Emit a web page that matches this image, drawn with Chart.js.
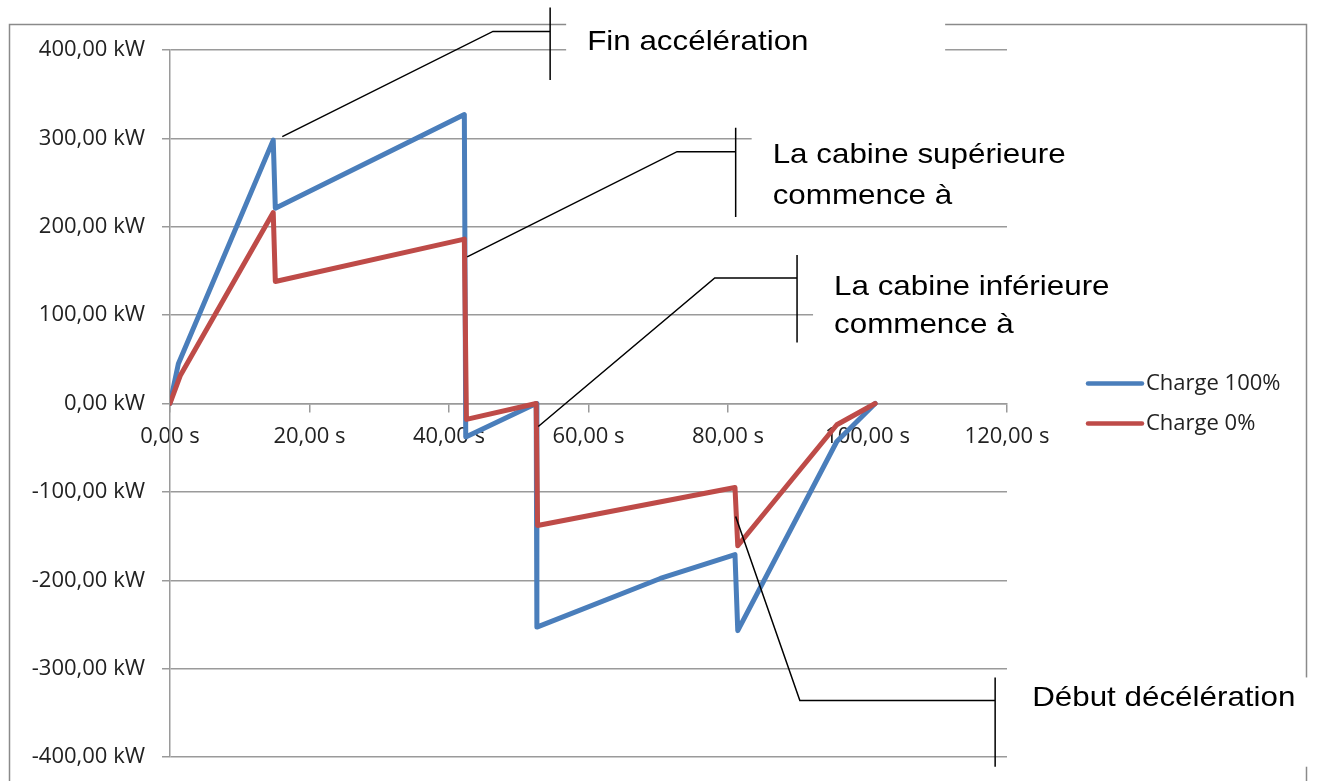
<!DOCTYPE html>
<html>
<head>
<meta charset="utf-8">
<script src="https://cdn.jsdelivr.net/npm/chart.js@4.4.1/dist/chart.umd.min.js"></script>
<style>
  html, body { margin: 0; padding: 0; background: #fff; }
  #wrap { width: 1317px; height: 781px; }
</style>
</head>
<body>
<div id="wrap"><canvas id="chart"></canvas></div>
<script>
// Charge 100% (blue)
const timeFull = [0, 1.2, 14.8, 15.1, 42.2, 42.4, 52.5, 52.6, 70.3, 81.0, 81.4, 95.6, 101.1];
const powerFull = [0, 45, 298, 221, 327, -38, 0, -253, -198, -171, -257, -43, 0];
// Charge 0% (red)
const timeEmpty = [0, 1.5, 14.8, 15.1, 42.2, 42.5, 52.5, 52.7, 81.0, 81.4, 95.6, 101.1];
const powerEmpty = [0, 32, 216, 138, 186, -18, 0, -138, -95, -161, -24, 0];

const seriesLabels = ['Charge 100%', 'Charge 0%'];
const xTicks = [0, 20, 40, 60, 80, 100, 120];
const yTicks = [-400, -300, -200, -100, 0, 100, 200, 300, 400];

// callout texts and the point (s, kW) each one points at
const calloutTexts = [
  ['Fin accélération'],
  ['La cabine supérieure', 'commence à'],
  ['La cabine inférieure', 'commence à'],
  ['Début décélération']
];
const calloutTargets = [[16.1, 302], [42.6, 166], [52.8, -26], [81.1, -128]];

// geometry of the callouts (in axis units), kept apart from the data
const calloutLayout = [
  { elbow: [46.3, 421], bar: [54.5, 448, 366], lines: [42], boxW: 379 },
  { elbow: [72.7, 285], bar: [81.1, 312, 211], lines: [35, 76], boxW: 360 },
  { elbow: [78.1, 142], bar: [89.9, 168, 69], lines: [40, 78], boxW: 330 },
  { elbow: [90.3, -336], bar: [118.3, -310, -411], lines: [29], boxW: 310 }
];

const blue = '#4A7EBB';
const red = '#BE4B48';
const grey = '#9a9a9a';
const tickFont = { family: 'Open Sans', size: 22 };

function pts(xs, ys) { return xs.map((x, i) => ({ x: x, y: ys[i] })); }
function fmt(v, unit) { return v.toFixed(2).replace('.', ',') + ' ' + unit; }

const decorPlugin = {
  id: 'decor',
  beforeDraw(chart) {
    const ctx = chart.ctx;
    ctx.save();
    ctx.fillStyle = '#fff';
    ctx.fillRect(0, 0, chart.width, chart.height);
    ctx.strokeStyle = '#8a8a8a';
    ctx.lineWidth = 1.5;
    ctx.strokeRect(9.5, 24.5, 1297, 800);
    ctx.restore();
  },
  afterDraw(chart) {
    const ctx = chart.ctx;
    const xs = chart.scales.x, ys = chart.scales.y;
    const area = chart.chartArea;
    ctx.save();
    calloutLayout.forEach((c, i) => {
      const ax = xs.getPixelForValue(calloutTargets[i][0]);
      const ay = ys.getPixelForValue(calloutTargets[i][1]);
      const ex = xs.getPixelForValue(c.elbow[0]);
      const ey = ys.getPixelForValue(c.elbow[1]);
      const bx = xs.getPixelForValue(c.bar[0]);
      const bt = ys.getPixelForValue(c.bar[1]);
      const bb = ys.getPixelForValue(c.bar[2]);
      // white text box
      ctx.fillStyle = '#fff';
      ctx.fillRect(bx + 16, bt, c.boxW, bb - bt);
      // leader line
      ctx.strokeStyle = '#000';
      ctx.lineWidth = 1.5;
      ctx.beginPath();
      ctx.moveTo(ax, ay);
      ctx.lineTo(ex, ey);
      ctx.lineTo(bx, ey);
      ctx.moveTo(bx, bt);
      ctx.lineTo(bx, bb);
      ctx.stroke();
      // text
      ctx.fillStyle = '#000';
      ctx.font = '28px "Liberation Sans", Arial, sans-serif';
      ctx.textBaseline = 'alphabetic';
      ctx.textAlign = 'left';
      calloutTexts[i].forEach((t, k) => {
        ctx.save();
        ctx.translate(bx + 37, bt + c.lines[k]);
        ctx.scale(1.12, 1);
        ctx.fillText(t, 0, 0);
        ctx.restore();
      });
    });
    // legend
    const cy = (area.top + area.bottom) / 2;
    const lx = area.right + 81;
    chart.data.datasets.forEach((ds, i) => {
      const y = cy - 20 + i * 40;
      ctx.strokeStyle = ds.borderColor;
      ctx.lineWidth = 4.5;
      ctx.lineCap = 'round';
      ctx.beginPath();
      ctx.moveTo(lx, y);
      ctx.lineTo(lx + 54, y);
      ctx.stroke();
      ctx.fillStyle = '#222';
      ctx.font = '22px "Open Sans"';
      ctx.textBaseline = 'middle';
      ctx.fillText(ds.label, lx + 58, y);
    });
    ctx.restore();
  }
};

Chart.defaults.color = '#222';

new Chart(document.getElementById('chart'), {
  type: 'line',
  data: {
    datasets: [
      { label: seriesLabels[0], data: pts(timeFull, powerFull), borderColor: blue, order: 1 },
      { label: seriesLabels[1], data: pts(timeEmpty, powerEmpty), borderColor: red, order: 0 }
    ]
  },
  options: {
    responsive: true,
    maintainAspectRatio: false,
    animation: false,
    events: [],
    layout: { padding: { left: 0, right: 310, top: 50, bottom: 24 } },
    elements: {
      line: { borderWidth: 5, tension: 0, borderJoinStyle: 'round', borderCapStyle: 'round', fill: false },
      point: { radius: 0 }
    },
    plugins: { legend: { display: false }, tooltip: { enabled: false } },
    scales: {
      x: {
        type: 'linear',
        position: { y: 0 },
        min: 0, max: 120,
        afterBuildTicks: s => { s.ticks = xTicks.map(v => ({ value: v })); },
        ticks: { font: tickFont, padding: 12, maxRotation: 0, callback: v => fmt(v, 's') },
        grid: { drawOnChartArea: false, drawTicks: true, tickLength: 8, color: grey, lineWidth: 1.5 },
        border: { display: true, color: grey, width: 1.5 }
      },
      y: {
        type: 'linear',
        min: -400, max: 400,
        afterBuildTicks: s => { s.ticks = yTicks.map(v => ({ value: v })); },
        afterFit: s => { s.width = 170; s.paddingTop = 0; s.paddingBottom = 0; },
        ticks: { font: tickFont, padding: 17, callback: v => fmt(v, 'kW') },
        grid: { color: grey, lineWidth: 1.5, tickLength: 8 },
        border: { display: true, color: grey, width: 1.5 }
      }
    }
  },
  plugins: [decorPlugin]
});
</script>
</body>
</html>
